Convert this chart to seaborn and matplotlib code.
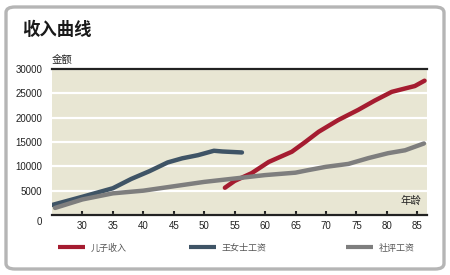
import numpy as np
import pandas as pd
import seaborn as sns
import matplotlib
matplotlib.use("Agg")
import matplotlib.pyplot as plt
import matplotlib.transforms as mtransforms
from matplotlib.patches import FancyBboxPatch
from matplotlib.lines import Line2D

# ---- data ----
son_age = [53.4, 55, 57.8, 60.6, 64.4, 66.6, 68.8, 70.4, 72, 75.3, 78, 80.8, 83, 84.6, 86.2]
son_inc = [5600, 7000, 8600, 10900, 13000, 15000, 17100, 18300, 19500, 21600, 23500, 25300, 26000, 26500, 27600]

wang_age = [25, 27.5, 30, 35, 38, 41, 44, 46.4, 49, 51.6, 53, 56.2]
wang_inc = [2050, 2900, 3750, 5500, 7400, 9000, 10800, 11650, 12300, 13200, 13050, 12850]

avg_age = [25.5, 30, 35, 40, 45, 50, 55, 60, 65, 67, 70, 73.7, 77, 80.2, 83, 86.1]
avg_inc = [1450, 3200, 4450, 5000, 5900, 6800, 7500, 8200, 8700, 9200, 9900, 10500, 11700, 12700, 13300, 14700]

series_names = ["儿子收入", "王女士工资", "社评工资"]
colors = ["#A51C30", "#3F5466", "#7E7E7E"]
xticks = [30, 35, 40, 45, 50, 55, 60, 65, 70, 75, 80, 85]
yticks = [0, 5000, 10000, 15000, 20000, 25000, 30000]

df = pd.concat([
    pd.DataFrame({"age": son_age, "value": son_inc, "series": series_names[0]}),
    pd.DataFrame({"age": wang_age, "value": wang_inc, "series": series_names[1]}),
    pd.DataFrame({"age": avg_age, "value": avg_inc, "series": series_names[2]}),
])

sns.set_theme(style="white")
plt.rcParams["font.family"] = ["Noto Sans CJK SC", "DejaVu Sans"]

fig = plt.figure(figsize=(4.5, 2.75), dpi=100)
fig.patch.set_facecolor("white")

# card frame
card = FancyBboxPatch((6 / 450, 6 / 275), 438 / 450, 262 / 275,
                      boxstyle="round,pad=0,rounding_size=0.02",
                      transform=fig.transFigure, facecolor="white",
                      edgecolor="#b5b5b5", linewidth=2.4, zorder=-10)
fig.patches.append(card)

ax = fig.add_axes([52 / 450, 1 - 215 / 275, 375 / 450, 146 / 275])
ax.set_zorder(5)
ax.set_facecolor("#E8E6D3")

sns.lineplot(data=df, x="age", y="value", hue="series", hue_order=series_names,
             palette=dict(zip(series_names, colors)), linewidth=3.2,
             legend=False, ax=ax, sort=True, estimator=None)
for ln in ax.get_lines():
    ln.set_solid_capstyle("round")
    ln.set_solid_joinstyle("round")

ax.set_xlim(25, 86.6)
ax.set_ylim(0, 30000)
ax.set_xticks(xticks)
ax.set_yticks(yticks)
ax.set_xticklabels([str(t) for t in xticks])
ax.set_yticklabels([str(t) for t in yticks])
ax.set_xlabel("")
ax.set_ylabel("")
ax.grid(axis="y", color="white", linewidth=1.6)
ax.grid(axis="x", visible=False)
ax.set_axisbelow(True)
for s in ["left", "right"]:
    ax.spines[s].set_visible(False)
for s in ["top", "bottom"]:
    ax.spines[s].set_visible(True)
    ax.spines[s].set_color("#222222")
    ax.spines[s].set_linewidth(1.6)
ax.tick_params(axis="x", direction="in", length=3, width=1.5, color="#222222",
               labelsize=7, labelcolor="#222222", pad=4, bottom=True)
ax.tick_params(axis="y", length=0, labelsize=7, labelcolor="#222222", pad=7)
for lab in ax.get_xticklabels() + ax.get_yticklabels():
    lab.set_family(["Liberation Sans", "DejaVu Sans"])
# the "0" label sits a bit below the baseline in the reference
zero_lab = ax.get_yticklabels()[0]
zero_lab.set_transform(zero_lab.get_transform() +
                       mtransforms.ScaledTranslation(0, -6 / 100, fig.dpi_scale_trans))

ax.text(0.985, 0.1, "年龄", transform=ax.transAxes, ha="right", va="center",
        fontsize=7.5, color="#222222")
fig.text(52 / 450, 1 - 60 / 275, "金额", ha="left", va="center", fontsize=7.5, color="#222222")
fig.text(22 / 450, 1 - 30 / 275, "收入曲线", ha="left", va="center", fontsize=12.5,
         fontweight="bold", color="#1a1a1a")

# legends
xpos = [58 / 450, 189 / 450, 346 / 450]
for name, c, x in zip(series_names, colors, xpos):
    h = Line2D([], [], color=c, linewidth=3.0, solid_capstyle="butt")
    fig.legend([h], [name], loc="center left", bbox_to_anchor=(x, 1 - 248 / 275),
               frameon=False, fontsize=6.5, handlelength=3.0, handletextpad=0.6,
               borderaxespad=0, borderpad=0, labelcolor="#555555")

fig.savefig("out.png", dpi=100, facecolor="white")
